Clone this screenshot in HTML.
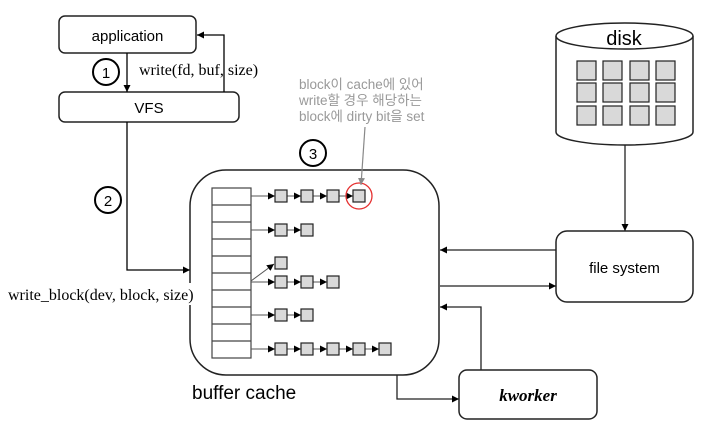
<!DOCTYPE html>
<html><head><meta charset="utf-8"><style>
html,body{margin:0;padding:0;background:#fff;}
svg{display:block;}
</style></head><body>
<svg width="726" height="434" viewBox="0 0 726 434" xmlns="http://www.w3.org/2000/svg">
<defs>
<marker id="ah" viewBox="0 0 10 10" refX="10" refY="5" markerWidth="7" markerHeight="7" orient="auto" markerUnits="userSpaceOnUse"><path d="M0,0 L10,5 L0,10 z" fill="#000"/></marker>
<marker id="ahg" viewBox="0 0 10 10" refX="10" refY="5" markerWidth="7" markerHeight="7" orient="auto" markerUnits="userSpaceOnUse"><path d="M0,0 L10,5 L0,10 z" fill="#888"/></marker>
</defs>
<g font-family="'Liberation Sans','Noto Sans CJK KR',sans-serif">
<rect x="59" y="16" width="137" height="37" rx="6" fill="#fff" stroke="#222" stroke-width="1.5"/>
<text x="127.5" y="41" font-size="15" text-anchor="middle">application</text>
<rect x="59" y="92" width="180" height="30" rx="6" fill="#fff" stroke="#222" stroke-width="1.5"/>
<text x="149" y="113" font-size="15" text-anchor="middle">VFS</text>
<line x1="127" y1="53" x2="127" y2="92" stroke="#000" stroke-width="1.3" marker-end="url(#ah)"/>
<polyline points="224,92 224,35 197,35" fill="none" stroke="#000" stroke-width="1.3" marker-end="url(#ah)"/>
<circle cx="106" cy="72" r="13" fill="#fff" stroke="#000" stroke-width="2"/>
<text x="106" y="78" font-size="15" text-anchor="middle">1</text>
<text x="139" y="75" font-size="16" font-family="'Liberation Serif',serif">write(fd, buf, size)</text>
<polyline points="127,122 127,270 190,270" fill="none" stroke="#000" stroke-width="1.3" marker-end="url(#ah)"/>
<circle cx="108" cy="200" r="13" fill="#fff" stroke="#000" stroke-width="2"/>
<text x="108" y="206" font-size="15" text-anchor="middle">2</text>
<circle cx="313" cy="153" r="13" fill="#fff" stroke="#000" stroke-width="2"/>
<text x="313" y="159" font-size="15" text-anchor="middle">3</text>
<rect x="190" y="170" width="249" height="205" rx="36" fill="#fff" stroke="#222" stroke-width="1.5"/>
<rect x="6" y="283" width="188" height="22" fill="#fff"/>
<text x="8" y="300" font-size="16" font-family="'Liberation Serif',serif">write_block(dev, block, size)</text>
<text x="192" y="399" font-size="19">buffer cache</text>
<rect x="212" y="188" width="39" height="170" fill="#fff" stroke="#444" stroke-width="1.2"/>
<g stroke="#444" stroke-width="1.2">
<line x1="212" y1="205" x2="251" y2="205"/><line x1="212" y1="222" x2="251" y2="222"/>
<line x1="212" y1="239" x2="251" y2="239"/><line x1="212" y1="256" x2="251" y2="256"/>
<line x1="212" y1="273" x2="251" y2="273"/><line x1="212" y1="290" x2="251" y2="290"/>
<line x1="212" y1="307" x2="251" y2="307"/><line x1="212" y1="324" x2="251" y2="324"/>
<line x1="212" y1="341" x2="251" y2="341"/>
</g>
<g stroke="#555" stroke-width="1" fill="none">
<line x1="251" y1="196" x2="275" y2="196" marker-end="url(#ah)"/>
<line x1="287" y1="196" x2="301" y2="196" marker-end="url(#ah)"/>
<line x1="313" y1="196" x2="327" y2="196" marker-end="url(#ah)"/>
<line x1="339" y1="196" x2="353" y2="196" marker-end="url(#ah)"/>
<line x1="251" y1="230" x2="275" y2="230" marker-end="url(#ah)"/>
<line x1="287" y1="230" x2="301" y2="230" marker-end="url(#ah)"/>
<line x1="251" y1="281" x2="274" y2="264" marker-end="url(#ah)"/>
<line x1="251" y1="282" x2="275" y2="282" marker-end="url(#ah)"/>
<line x1="287" y1="282" x2="301" y2="282" marker-end="url(#ah)"/>
<line x1="313" y1="282" x2="327" y2="282" marker-end="url(#ah)"/>
<line x1="251" y1="315" x2="275" y2="315" marker-end="url(#ah)"/>
<line x1="287" y1="315" x2="301" y2="315" marker-end="url(#ah)"/>
<line x1="251" y1="349" x2="275" y2="349" marker-end="url(#ah)"/>
<line x1="287" y1="349" x2="301" y2="349" marker-end="url(#ah)"/>
<line x1="313" y1="349" x2="327" y2="349" marker-end="url(#ah)"/>
<line x1="339" y1="349" x2="353" y2="349" marker-end="url(#ah)"/>
<line x1="365" y1="349" x2="379" y2="349" marker-end="url(#ah)"/>
</g>
<g fill="#d9d9d9" stroke="#222" stroke-width="1.2">
<rect x="275" y="190" width="12" height="12"/><rect x="301" y="190" width="12" height="12"/><rect x="327" y="190" width="12" height="12"/><rect x="353" y="190" width="12" height="12"/>
<rect x="275" y="224" width="12" height="12"/><rect x="301" y="224" width="12" height="12"/>
<rect x="275" y="257" width="12" height="12"/>
<rect x="275" y="276" width="12" height="12"/><rect x="301" y="276" width="12" height="12"/><rect x="327" y="276" width="12" height="12"/>
<rect x="275" y="309" width="12" height="12"/><rect x="301" y="309" width="12" height="12"/>
<rect x="275" y="343" width="12" height="12"/><rect x="301" y="343" width="12" height="12"/><rect x="327" y="343" width="12" height="12"/><rect x="353" y="343" width="12" height="12"/><rect x="379" y="343" width="12" height="12"/>
</g>
<circle cx="359" cy="196" r="13" fill="none" stroke="#e53030" stroke-width="1.3"/>
<line x1="365" y1="127" x2="361" y2="185" stroke="#888" stroke-width="1.2" marker-end="url(#ahg)"/>
<g font-size="13.5" fill="#999">
<text x="299" y="89">block이 cache에 있어</text>
<text x="299" y="105">write할 경우 해당하는</text>
<text x="299" y="121">block에 dirty bit을 set</text>
</g>
<path d="M556,36 L556,132 A68.5,13 0 0 0 693,132 L693,36" fill="#fff" stroke="#222" stroke-width="1.5"/>
<ellipse cx="624.5" cy="36" rx="68.5" ry="13" fill="#fff" stroke="#222" stroke-width="1.5"/>
<text x="624" y="45" font-size="20" text-anchor="middle">disk</text>
<g fill="#d9d9d9" stroke="#222" stroke-width="1.2">
<rect x="577" y="61" width="19" height="19"/><rect x="603" y="61" width="19" height="19"/><rect x="630" y="61" width="19" height="19"/><rect x="656" y="61" width="19" height="19"/>
<rect x="577" y="83" width="19" height="19"/><rect x="603" y="83" width="19" height="19"/><rect x="630" y="83" width="19" height="19"/><rect x="656" y="83" width="19" height="19"/>
<rect x="577" y="106" width="19" height="19"/><rect x="603" y="106" width="19" height="19"/><rect x="630" y="106" width="19" height="19"/><rect x="656" y="106" width="19" height="19"/>
</g>
<line x1="625" y1="145" x2="625" y2="231" stroke="#222" stroke-width="1.3" marker-end="url(#ah)"/>
<rect x="556" y="231" width="137" height="71" rx="11" fill="#fff" stroke="#222" stroke-width="1.5"/>
<text x="624.5" y="273" font-size="15" text-anchor="middle">file system</text>
<line x1="556" y1="250" x2="440" y2="250" stroke="#222" stroke-width="1.3" marker-end="url(#ah)"/>
<line x1="440" y1="286" x2="556" y2="286" stroke="#222" stroke-width="1.3" marker-end="url(#ah)"/>
<polyline points="481,370 481,307 440,307" fill="none" stroke="#222" stroke-width="1.3" marker-end="url(#ah)"/>
<polyline points="397,375 397,399 459,399" fill="none" stroke="#222" stroke-width="1.3" marker-end="url(#ah)"/>
<rect x="459" y="370" width="138" height="49" rx="8" fill="#fff" stroke="#222" stroke-width="1.5"/>
<text x="528" y="401" font-size="17" font-weight="bold" font-style="italic" text-anchor="middle" font-family="'Liberation Serif',serif">kworker</text>
</g>
</svg>
</body></html>
